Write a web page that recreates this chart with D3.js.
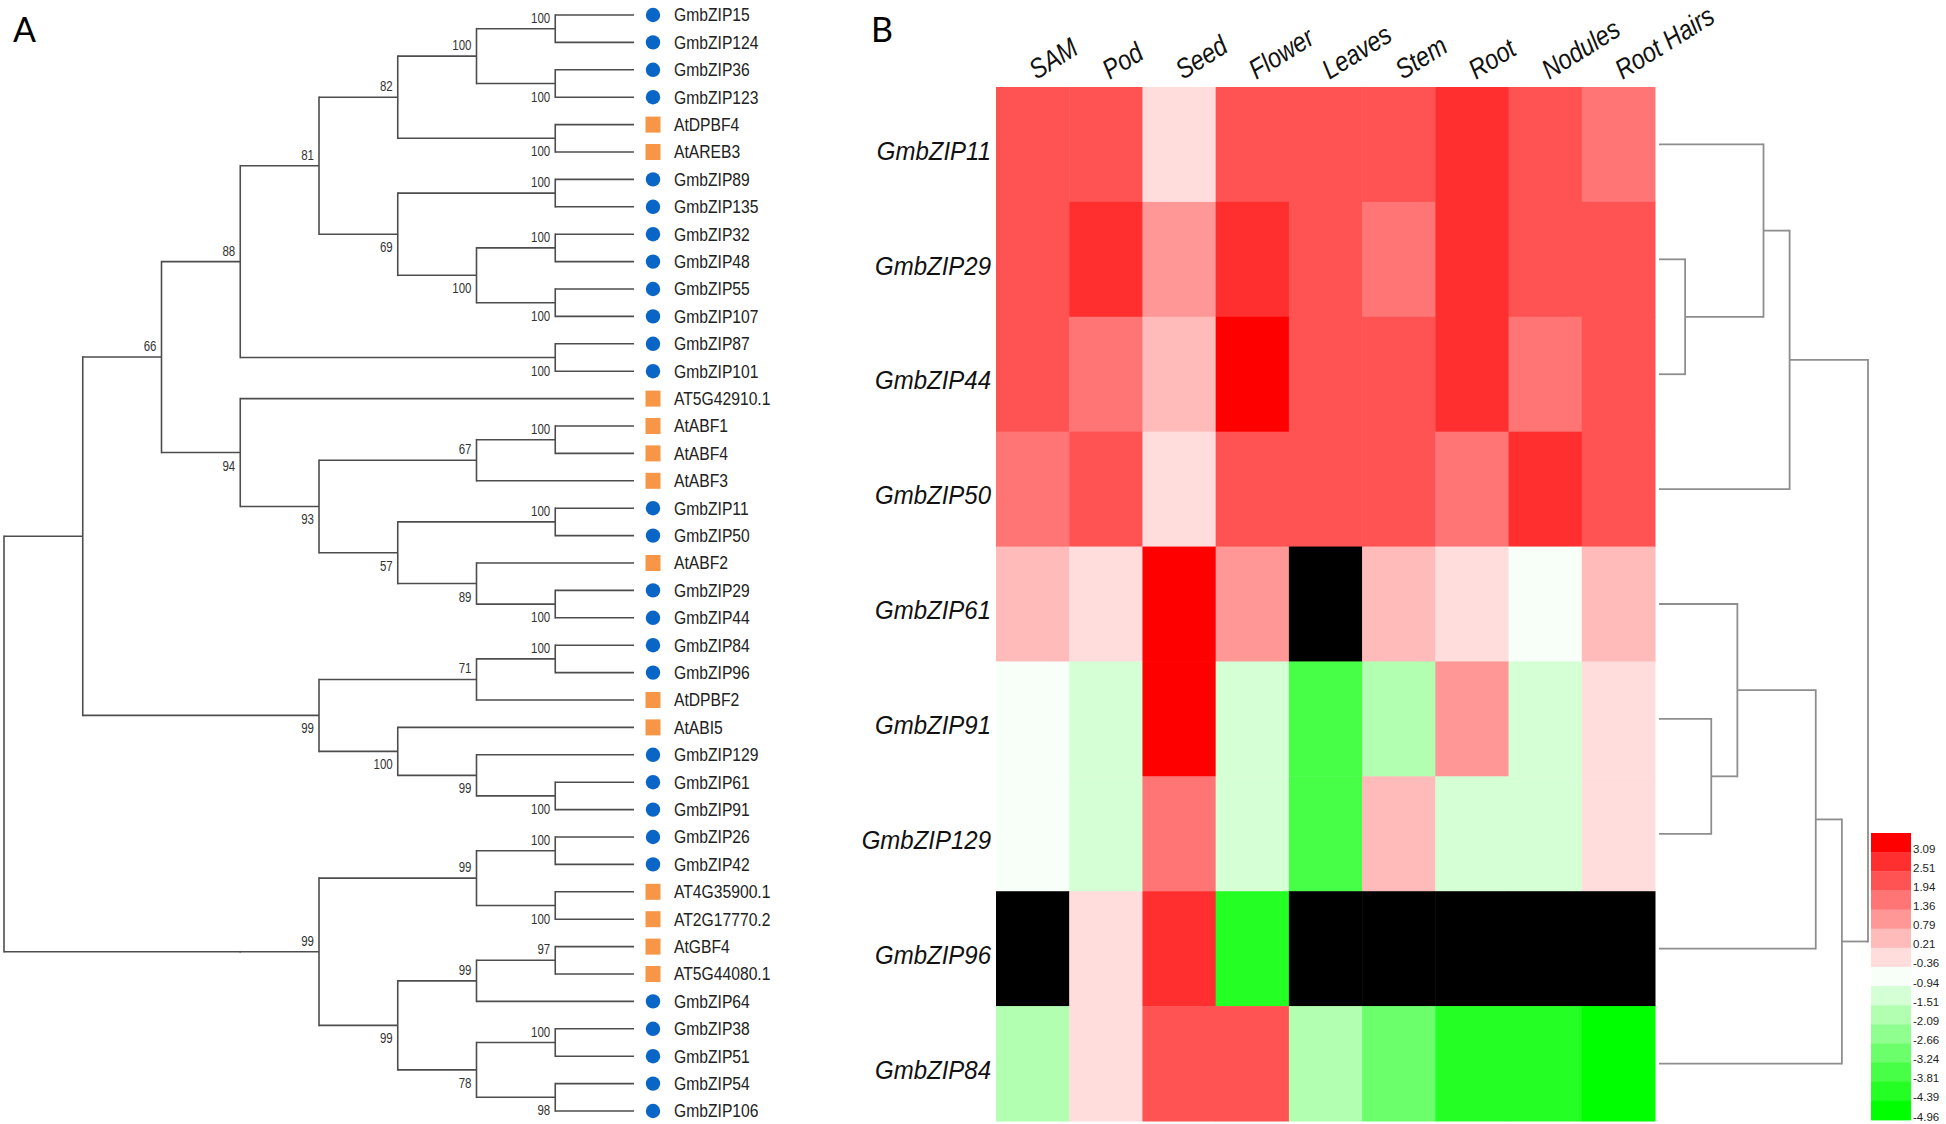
<!DOCTYPE html>
<html><head><meta charset="utf-8">
<script src="https://cdn.jsdelivr.net/npm/d3@7"></script>
<style>body{margin:0;background:#fff}svg{display:block}</style>
</head><body>
<svg id="chart" width="1946" height="1124"></svg>
<script>
// ---------- Panel A: phylogenetic tree (topology + bootstrap support) ----------
const treeNewick = "((((((((GmbZIP15,GmbZIP124)100,(GmbZIP36,GmbZIP123)100)100,(AtDPBF4,AtAREB3)100)82,((GmbZIP89,GmbZIP135)100,((GmbZIP32,GmbZIP48)100,(GmbZIP55,GmbZIP107)100)100)69)81,(GmbZIP87,GmbZIP101)100)88,(AT5G42910.1,(((AtABF1,AtABF4)100,AtABF3)67,((GmbZIP11,GmbZIP50)100,(AtABF2,(GmbZIP29,GmbZIP44)100)89)57)93)94)66,(((GmbZIP84,GmbZIP96)100,AtDPBF2)71,(AtABI5,(GmbZIP129,(GmbZIP61,GmbZIP91)100)99)100)99),((((GmbZIP26,GmbZIP42)100,(AT4G35900.1,AT2G17770.2)100)99,(((AtGBF4,AT5G44080.1)97,GmbZIP64)99,((GmbZIP38,GmbZIP51)100,(GmbZIP54,GmbZIP106)98)78)99)99);";
const soybeanPrefix = "Gm";   // soybean genes: blue circle; Arabidopsis genes: orange square

// ---------- Panel B: expression heatmap ----------
const tissues = ["SAM", "Pod", "Seed", "Flower", "Leaves", "Stem", "Root", "Nodules", "Root Hairs"];
const genes = ["GmbZIP11", "GmbZIP29", "GmbZIP44", "GmbZIP50", "GmbZIP61", "GmbZIP91", "GmbZIP129", "GmbZIP96", "GmbZIP84"];
// null = no data (black)
const expr_GmbZIP11  = [1.94, 1.94, -0.36, 1.94, 1.94, 1.94, 2.51, 1.94, 1.36];
const expr_GmbZIP29  = [1.94, 2.51, 0.79, 2.51, 1.94, 1.36, 2.51, 1.94, 1.94];
const expr_GmbZIP44  = [1.94, 1.36, 0.21, 3.09, 1.94, 1.94, 2.51, 1.36, 1.94];
const expr_GmbZIP50  = [1.36, 1.94, -0.36, 1.94, 1.94, 1.94, 1.36, 2.51, 1.94];
const expr_GmbZIP61  = [0.21, -0.36, 3.09, 0.79, null, 0.21, -0.36, -0.94, 0.21];
const expr_GmbZIP91  = [-0.94, -1.51, 3.09, -1.51, -3.81, -2.09, 0.79, -1.51, -0.36];
const expr_GmbZIP129 = [-0.94, -1.51, 1.36, -1.51, -3.81, 0.21, -1.51, -1.51, -0.36];
const expr_GmbZIP96  = [null, -0.36, 2.51, -4.39, null, null, null, null, null];
const expr_GmbZIP84  = [-2.09, -0.36, 1.94, 1.94, -2.09, -3.24, -4.39, -4.39, -4.96];
const expression = [expr_GmbZIP11, expr_GmbZIP29, expr_GmbZIP44, expr_GmbZIP50, expr_GmbZIP61,
                    expr_GmbZIP91, expr_GmbZIP129, expr_GmbZIP96, expr_GmbZIP84];

// colour key
const legendTicks = [3.09, 2.51, 1.94, 1.36, 0.79, 0.21, -0.36, -0.94, -1.51, -2.09, -2.66, -3.24, -3.81, -4.39, -4.96];
const legendColors = ["#ff0000", "#ff2f2f", "#ff5353", "#ff7575", "#ff9797", "#ffbaba", "#ffdddd", "#f8fff8",
                      "#d5ffd5", "#b2ffb2", "#8fff8f", "#6bff6b", "#47ff47", "#24ff24", "#00ff00"];

// row clustering (merge rank as height)
const rowDendrogram = {rank: 8, children: [
  {rank: 5, children: [
    {rank: 4, children: [{name: "GmbZIP11"}, {rank: 1, children: [{name: "GmbZIP29"}, {name: "GmbZIP44"}]}]},
    {name: "GmbZIP50"}]},
  {rank: 7, children: [
    {rank: 6, children: [
      {rank: 3, children: [{name: "GmbZIP61"}, {rank: 2, children: [{name: "GmbZIP91"}, {name: "GmbZIP129"}]}]},
      {name: "GmbZIP96"}]},
    {name: "GmbZIP84"}]}
]};

// ================= drawing =================
const svg = d3.select("#chart");
const FONT = "'Liberation Sans', Arial, sans-serif";

function parseNewick(s) {
  let i = 0;
  function node() {
    const n = {};
    if (s[i] === "(") {
      i++; n.children = [];
      n.children.push(node());
      while (s[i] === ",") { i++; n.children.push(node()); }
      i++; // ')'
    }
    let lab = "";
    while (i < s.length && !",();".includes(s[i])) lab += s[i++];
    if (n.children) n.support = lab; else n.name = lab;
    return n;
  }
  return node();
}

// ---- Panel A ----
const root = d3.hierarchy(parseNewick(treeNewick));
const leaves = root.leaves();
const yLeaf = d3.scalePoint().domain(leaves.map(d => d.data.name)).range([15, 1111]);
const xTree = d3.scaleLinear().domain([root.height, 0]).range([4, 634]);
root.eachAfter(n => {
  n.px = xTree(n.height);
  if (!n.children) n.py = yLeaf(n.data.name);
  else n.py = (n.children[0].py + n.children[n.children.length - 1].py) / 2;
});
const gA = svg.append("g");
const treeStroke = "#4d4d4d";
root.descendants().filter(n => n.children).forEach(n => {
  const c0 = n.children[0], c1 = n.children[n.children.length - 1];
  gA.append("line").attr("x1", n.px).attr("x2", n.px).attr("y1", c0.py).attr("y2", c1.py)
    .attr("stroke", treeStroke).attr("stroke-width", 1.6).attr("stroke-linecap", "square");
  n.children.forEach(c => {
    gA.append("line").attr("x1", n.px).attr("x2", c.px).attr("y1", c.py).attr("y2", c.py)
      .attr("stroke", treeStroke).attr("stroke-width", 1.6);
  });
});
// bootstrap values
root.descendants().filter(n => n.children && n.parent && n.data.support).forEach(n => {
  const above = n.parent.children[0] === n;
  gA.append("text")
    .attr("transform", `translate(${n.px - 5},${above ? n.py - 6 : n.py + 18}) scale(0.92,1.12)`)
    .attr("text-anchor", "end").attr("font-family", FONT).attr("font-size", 12.5)
    .attr("fill", "#333").text(n.data.support);
});
// leaf markers + names
leaves.forEach(l => {
  const y = l.py;
  if (l.data.name.startsWith(soybeanPrefix)) {
    gA.append("circle").attr("cx", 653).attr("cy", y).attr("r", 7.2).attr("fill", "#0a66c6");
  } else {
    gA.append("rect").attr("x", 645.5).attr("y", y - 8).attr("width", 15).attr("height", 16).attr("fill", "#f79646");
  }
  gA.append("text").attr("transform", `translate(674,${y}) scale(0.98,1.12)`).attr("dy", "0.36em")
    .attr("font-family", FONT).attr("font-size", 16).attr("fill", "#222").text(l.data.name);
});
svg.append("text").attr("x", 13).attr("y", 42).attr("font-family", "Lato, 'Open Sans', sans-serif")
  .attr("font-size", 34).attr("fill", "#000").text("A");

// ---- Panel B ----
svg.append("text").attr("x", 871).attr("y", 42).attr("font-family", "Lato, 'Open Sans', sans-serif")
  .attr("font-size", 34).attr("fill", "#000").text("B");

const xH = d3.scaleBand().domain(tissues).range([996, 1655]);
const yH = d3.scaleBand().domain(genes).range([87, 1121]);
const half = (legendTicks[0] - legendTicks[1]) / 2;
const color = d3.scaleQuantize()
  .domain([legendTicks[legendTicks.length - 1] - half, legendTicks[0] + half])
  .range(legendColors.slice().reverse());
const gB = svg.append("g");
genes.forEach((g, r) => {
  tissues.forEach((t, c) => {
    const v = expression[r][c];
    gB.append("rect").attr("x", xH(t)).attr("y", yH(g))
      .attr("width", xH.bandwidth() + 0.5).attr("height", yH.bandwidth() + 0.5)
      .attr("fill", v == null ? "#000" : color(v));
  });
});
// column labels
tissues.forEach(t => {
  gB.append("text")
    .attr("transform", `translate(${xH(t) + xH.bandwidth() / 2 + 4},80) rotate(-32) scale(0.98,1.15)`)
    .attr("font-family", FONT).attr("font-size", 24).attr("font-style", "italic")
    .attr("fill", "#111").text(t);
});
// row labels
genes.forEach(g => {
  gB.append("text")
    .attr("transform", `translate(991,${yH(g) + yH.bandwidth() / 2 + 6}) scale(1,1.1)`).attr("dy", "0.35em")
    .attr("text-anchor", "end").attr("font-family", FONT).attr("font-size", 24)
    .attr("font-style", "italic").attr("fill", "#111").text(g);
});

// row dendrogram
const rroot = d3.hierarchy(rowDendrogram);
const xD = d3.scaleLinear().domain([0, 8]).range([1659, 1868]);
rroot.eachAfter(n => {
  if (!n.children) { n.px = xD(0); n.py = yH(n.data.name) + yH.bandwidth() / 2; }
  else { n.px = xD(n.data.rank); n.py = (n.children[0].py + n.children[1].py) / 2; }
});
const dStroke = "#8e8e8e";
rroot.descendants().filter(n => n.children).forEach(n => {
  gB.append("line").attr("x1", n.px).attr("x2", n.px).attr("y1", n.children[0].py).attr("y2", n.children[1].py)
    .attr("stroke", dStroke).attr("stroke-width", 1.8).attr("stroke-linecap", "square");
  n.children.forEach(c => {
    gB.append("line").attr("x1", c.px).attr("x2", n.px).attr("y1", c.py).attr("y2", c.py)
      .attr("stroke", dStroke).attr("stroke-width", 1.8);
  });
});

// colour key
const yL = d3.scaleBand().domain(legendTicks).range([833, 1120]);
legendTicks.forEach((t, i) => {
  gB.append("rect").attr("x", 1871).attr("y", yL(t)).attr("width", 40).attr("height", yL.bandwidth() + 0.4)
    .attr("fill", legendColors[i]);
  gB.append("text").attr("x", 1913).attr("y", yL(t) + yL.bandwidth() + 0.5)
    .attr("font-family", FONT).attr("font-size", 11.5).attr("fill", "#222")
    .text(t.toFixed(2));
});
</script>
</body></html>
